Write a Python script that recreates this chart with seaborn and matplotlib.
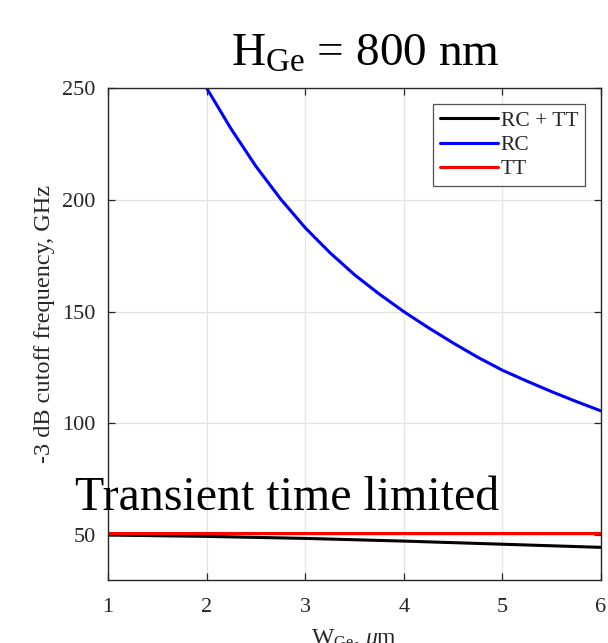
import matplotlib
matplotlib.use("Agg")
import matplotlib.pyplot as plt
import seaborn as sns
import pandas as pd

# Bandwidth vs. germanium width, H_Ge = 800 nm
w_rc = [2.0, 2.25, 2.5, 2.75, 3.0, 3.25, 3.5, 3.75, 4.0,
        4.25, 4.5, 4.75, 5.0, 5.25, 5.5, 5.75, 6.0]
f_rc = [250.0, 231.6, 215.0, 200.4, 187.5, 176.4, 166.5, 157.9, 150.0,
        142.8, 136.0, 129.6, 123.8, 118.9, 114.2, 109.8, 105.6]

w_tt = [1.0, 6.0]
f_tt = [50.8, 50.8]

w_total = [1.0, 2.0, 3.0, 4.0, 5.0, 6.0]
f_total = [50.1, 49.5, 48.6, 47.4, 46.0, 44.6]

x_ticks = [1, 2, 3, 4, 5, 6]
y_ticks = [50, 100, 150, 200, 250]

sns.set_theme(style="white")
plt.rcParams["font.family"] = ["Liberation Serif", "DejaVu Serif"]
plt.rcParams["mathtext.fontset"] = "custom"
plt.rcParams["mathtext.rm"] = "Liberation Serif"
plt.rcParams["mathtext.it"] = "Liberation Serif:italic"

fig = plt.figure(figsize=(6.08, 6.43), dpi=100)
ax = fig.add_axes([108 / 608, 1 - 580 / 643, (601 - 108) / 608, (580 - 88) / 643])

df_total = pd.DataFrame({"w": w_total, "f": f_total})
df_rc = pd.DataFrame({"w": w_rc, "f": f_rc})
df_tt = pd.DataFrame({"w": w_tt, "f": f_tt})

lw = 2.2
sns.lineplot(data=df_total, x="w", y="f", color="black", lw=lw, label="RC + TT", ax=ax)
sns.lineplot(data=df_rc, x="w", y="f", color="#0000ff", lw=lw, label="RC", ax=ax)
sns.lineplot(data=df_tt, x="w", y="f", color="#ff0000", lw=lw, label="TT", ax=ax)
for line in ax.get_lines():
    line.set_solid_joinstyle("round")

ax.set_xlim(1, 6)
ax.set_ylim(30, 250)
ax.set_xticks(x_ticks)
ax.set_yticks(y_ticks)
ax.set_xticklabels([str(t) for t in x_ticks])
ax.set_yticklabels([str(t) for t in y_ticks])

ax.grid(True, color="#e3e3e3", lw=0.9)
ax.set_axisbelow(True)
for s in ax.spines.values():
    s.set_color("#262626")
    s.set_linewidth(1.0)
    s.set_visible(True)
ax.tick_params(direction="in", length=5, width=0.9, color="#262626",
               labelsize=16, labelcolor="#262626", top=True, right=True,
               bottom=True, left=True)
ax.tick_params(axis="x", pad=13)
ax.tick_params(axis="y", pad=9)

ax.set_xlabel(r"W$_{\rm Ge}$, $\mu$m", fontsize=17, color="#262626", labelpad=7)
ax.set_ylabel("-3 dB cutoff frequency, GHz", fontsize=17.5, color="#262626")
ax.yaxis.set_label_coords(-0.108, 0.52)

leg = ax.legend(loc="upper right", fontsize=15.5, frameon=True, fancybox=False,
                handlelength=2.7, handletextpad=0.15, borderpad=0.3,
                labelspacing=0.2, borderaxespad=0.75)
leg.get_frame().set_edgecolor("#262626")
leg.get_frame().set_linewidth(0.9)

ax.text(0.665, 61.3, "Transient time limited", fontsize=34.5, color="black",
        va="baseline", ha="left", clip_on=False)

fig.text(365 / 608, 1 - 66 / 643, r"H$_{\rm Ge}$ = 800 nm", fontsize=34,
         color="black", ha="center", va="baseline")

fig.savefig("out.png", dpi=100, facecolor="white")
